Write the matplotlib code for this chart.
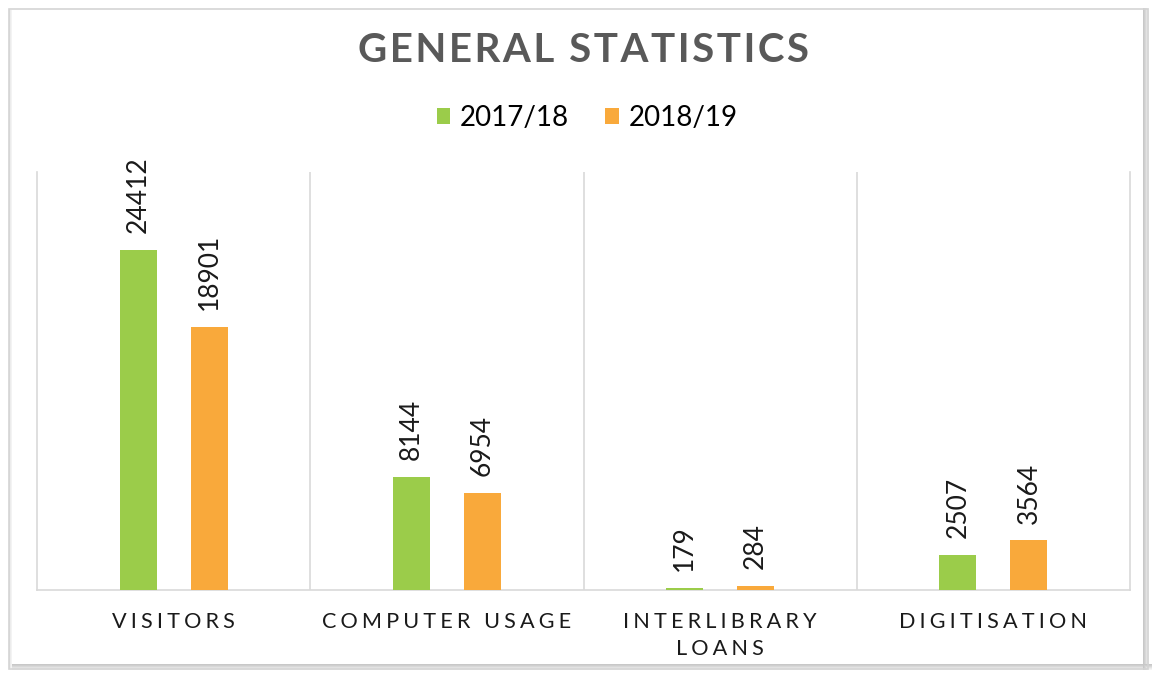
import matplotlib
matplotlib.use("Agg")
import matplotlib.pyplot as plt
from matplotlib.patches import Rectangle
import numpy as np

categories = ["VISITORS", "COMPUTER USAGE", "INTERLIBRARY\nLOANS", "DIGITISATION"]
series_names = ["2017/18", "2018/19"]
values_2017 = [24412, 8144, 179, 2507]
values_2018 = [18901, 6954, 284, 3564]
colors = ["#9BCC4A", "#F9A93B"]

def spaced(s, sep="\u2009"):
    return "\n".join(sep.join(line) for line in s.split("\n"))

plt.rcParams['font.family'] = ['Lato', 'DejaVu Sans']

fig = plt.figure(figsize=(11.54, 6.74), dpi=100)
fig.patch.set_facecolor("white")

W, H = 1154, 674
def fx(x): return x / W
def fy(y): return 1 - y / H

# frame with soft bevel (right / bottom shadow)
shades = ["#f4f4f4", "#ececec", "#e2e2e2", "#d8d8d8", "#cfcfcf", "#c8c8c8"]
for i, c in enumerate(shades):
    fig.patches.append(Rectangle((fx(12), fy(670 - i)), fx(1140), 1 / H, transform=fig.transFigure,
                                 facecolor=c, edgecolor="none", zorder=0))
    fig.patches.append(Rectangle((fx(1148 - i), fy(670)), 1 / W, 662 / H, transform=fig.transFigure,
                                 facecolor=c, edgecolor="none", zorder=0))
for i, c in enumerate(["#e4e4e4", "#ececec", "#f3f3f3"]):
    fig.patches.append(Rectangle((fx(9 + i), fy(668)), 1 / W, 658 / H, transform=fig.transFigure,
                                 facecolor=c, edgecolor="none", zorder=0))
fig.patches.append(Rectangle((fx(9), fy(669)), fx(1139), 660 / H, transform=fig.transFigure,
                             facecolor="none", edgecolor="#d4d4d4", lw=1.2, zorder=0))

ax = fig.add_axes([37 / W, (H - 590) / H, (1130 - 37) / W, (590 - 172) / H])
ax.set_facecolor("none")
ax.set_zorder(3)

x = np.arange(len(categories))
bw = 0.136
off = 0.13
b1 = ax.bar(x - off, values_2017, width=bw, color=colors[0], label=series_names[0], zorder=3)
b2 = ax.bar(x + off, values_2018, width=bw, color=colors[1], label=series_names[1], zorder=3)

for bars in (b1, b2):
    for r in bars:
        ax.annotate(f"{int(r.get_height())}", (r.get_x() + r.get_width() / 2, r.get_height()),
                    xytext=(0, 12), textcoords="offset points", rotation=90,
                    ha="center", va="bottom", fontsize=19, color="#1a1a1a")

ax.set_xlim(-0.5, len(categories) - 0.5)
ax.set_ylim(0, 30000)
ax.set_yticks([])
ax.set_xticks(x)
ax.set_xticklabels([spaced(c, "\u2009\u200a") for c in categories], fontsize=15.6, color="#1a1a1a",
                   linespacing=1.45)
ax.tick_params(axis="x", length=0, pad=16)
ax.set_xticks(np.arange(0.5, len(categories) - 0.5, 1), minor=True)
ax.tick_params(axis="x", which="minor", length=0)
ax.grid(axis="x", which="minor", color="#D9D9D9", lw=1.2, zorder=0)
for s in ["left", "right", "bottom"]:
    ax.spines[s].set_color("#D9D9D9")
    ax.spines[s].set_linewidth(1.2)
ax.spines["top"].set_visible(False)

fig.text(0.5055, fy(51), spaced("GENERAL STATISTICS", "\u200a"), ha="center", va="center",
         fontsize=29, fontweight="bold", color="#595959")

leg = fig.legend(handles=[b1, b2], labels=series_names, loc="center", bbox_to_anchor=(0.509, fy(118)),
                 ncol=2, frameon=False, fontsize=20, handlelength=0.5, handleheight=0.5,
                 handletextpad=0.35, columnspacing=1.3)

fig.savefig("out.png", dpi=100, facecolor="white")
